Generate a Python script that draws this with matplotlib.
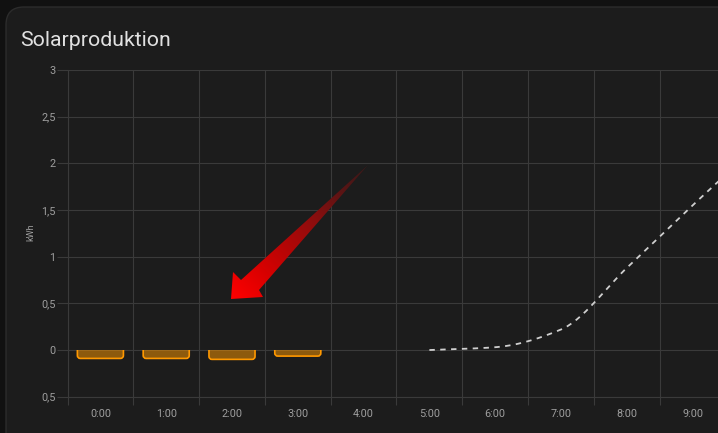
import numpy as np
import matplotlib.pyplot as plt
from matplotlib.patches import FancyBboxPatch, Polygon
from matplotlib.colors import LinearSegmentedColormap
from matplotlib.transforms import Bbox, TransformedBbox

plt.rcParams['font.family'] = ['Roboto', 'DejaVu Sans']

# data
hours = ['0:00', '1:00', '2:00', '3:00', '4:00', '5:00', '6:00', '7:00', '8:00', '9:00']
bar_hours = [0, 1, 2, 3]
bar_values = [-0.09, -0.09, -0.10, -0.065]
forecast_hours = [5, 6, 7, 8, 9, 10]
forecast_values = [0.0, 0.03, 0.22, 0.88, 1.55, 2.2]
y_ticks = [-0.5, 0, 0.5, 1, 1.5, 2, 2.5, 3]
y_labels = ['0,5', '0', '0,5', '1', '1,5', '2', '2,5', '3']

W, H = 718, 433
fig = plt.figure(figsize=(W / 100, H / 100), dpi=100, facecolor='#111111')

# card background
card = FancyBboxPatch((6 / W, -0.1), 1.2, (H - 7) / H + 0.1,
                      boxstyle='round,pad=0,rounding_size=0.025',
                      transform=fig.transFigure, facecolor='#1c1c1c',
                      edgecolor='#2c2c2c', linewidth=1, mutation_aspect=W / H,
                      zorder=-10)
fig.patches.append(card)

fig.text(20 / W, 1 - 40 / H, 'Solarproduktion', fontsize=15.3, color='#e1e1e1',
         va='center', ha='left')

# axes: ~66 px per hour, extends beyond the right edge
left, top, bottom = 67.5, 70, 396.7
px_x, px_y = 65.8, (bottom - top) / 3.5
ax_w = 11 * px_x
ax = fig.add_axes([left / W, 1 - bottom / H, ax_w / W, (bottom - top) / H])
ax.set_facecolor('none')
ax.set_xlim(-0.5, 10.5)
ax.set_ylim(-0.5, 3)

grid = '#3a3a3a'
ax.set_xticks(np.arange(-0.5, 10.6, 1))
ax.set_xticklabels([])
ax.set_xticks(range(len(hours)), minor=True)
ax.set_xticklabels(hours, minor=True)
ax.tick_params(axis='x', which='major', length=6, color=grid, width=0.8)
ax.tick_params(axis='x', which='minor', length=0, pad=9, labelsize=7.8, labelcolor='#9e9e9e')
ax.set_yticks(y_ticks)
ax.set_yticklabels(y_labels)
ax.tick_params(axis='y', length=8, color=grid, width=0.8, pad=0.5, labelsize=7.8, labelcolor='#9e9e9e')
ax.grid(True, which='major', color=grid, linewidth=0.8)
for s in ['top', 'right']:
    ax.spines[s].set_visible(False)
for s in ['left', 'bottom']:
    ax.spines[s].set_color(grid)
    ax.spines[s].set_linewidth(0.8)
ax.set_ylabel('kWh', fontsize=6.5, color='#9e9e9e')
ax.yaxis.set_label_coords((35 - left) / ax_w, (bottom - 232) / (bottom - top))

# bars with rounded bottom corners
bw = 0.7
r = 3.0 / px_x
for xh, v in zip(bar_hours, bar_values):
    p = FancyBboxPatch((xh - bw / 2, v), bw, -v + 0.1,
                       boxstyle=f'round,pad=0,rounding_size={r}',
                       mutation_aspect=px_x / px_y,
                       facecolor=(1.0, 0.596, 0.0, 0.5), edgecolor='#ff9800',
                       linewidth=1.2, zorder=4)
    ax.add_patch(p)
    p.set_clip_box(TransformedBbox(Bbox([[xh - 1, -1], [xh + 1, 0]]), ax.transData))

# smooth monotone curve through the hourly forecast points
xs = np.array(forecast_hours, float)
ys = np.array(forecast_values, float)
d = np.diff(ys) / np.diff(xs)
m = np.zeros_like(ys)
m[0], m[-1] = d[0], d[-1]
for i in range(1, len(ys) - 1):
    m[i] = 0 if d[i - 1] * d[i] <= 0 else 2 / (1 / d[i - 1] + 1 / d[i])
cx, cy = [], []
for i in range(len(xs) - 1):
    t = np.linspace(0, 1, 30)
    h = xs[i + 1] - xs[i]
    h00 = 2 * t**3 - 3 * t**2 + 1
    h10 = t**3 - 2 * t**2 + t
    h01 = -2 * t**3 + 3 * t**2
    h11 = t**3 - t**2
    cx.extend(xs[i] + t * h)
    cy.extend(h00 * ys[i] + h10 * h * m[i] + h01 * ys[i + 1] + h11 * h * m[i + 1])
ax.plot(cx, cy, color='#cfcfcf', linewidth=1.3, dashes=(3, 3), zorder=5)

# red arrow overlay in pixel coordinates
ov = fig.add_axes([0, 0, 1, 1])
ov.axis('off')
head, tail = np.array([231.0, 299.0]), np.array([368.0, 165.0])
arrow = Polygon([tuple(tail), (259, 290), (263, 297), tuple(head), (233, 272), (241, 280)],
                closed=True, transform=ov.transData, facecolor='none', edgecolor='none')
ov.add_patch(arrow)
gx, gy = np.meshgrid(np.linspace(231, 368, 200), np.linspace(165, 299, 200))
vec = tail - head
tval = ((gx - head[0]) * vec[0] + (gy - head[1]) * vec[1]) / (vec @ vec)
cmap = LinearSegmentedColormap.from_list(
    'red', ['#ff0000', '#dc0000', '#b40606', '#8c0e0e', '#5c1414', '#3a1a1a'])
img = ov.imshow(np.clip(tval, 0, 1), extent=(231, 368, 299, 165), origin='upper',
                cmap=cmap, vmin=0, vmax=1, aspect='auto', zorder=10)
img.set_clip_path(arrow)
ov.set_xlim(0, W)
ov.set_ylim(H, 0)

fig.savefig('out.png', dpi=100, facecolor=fig.get_facecolor())
